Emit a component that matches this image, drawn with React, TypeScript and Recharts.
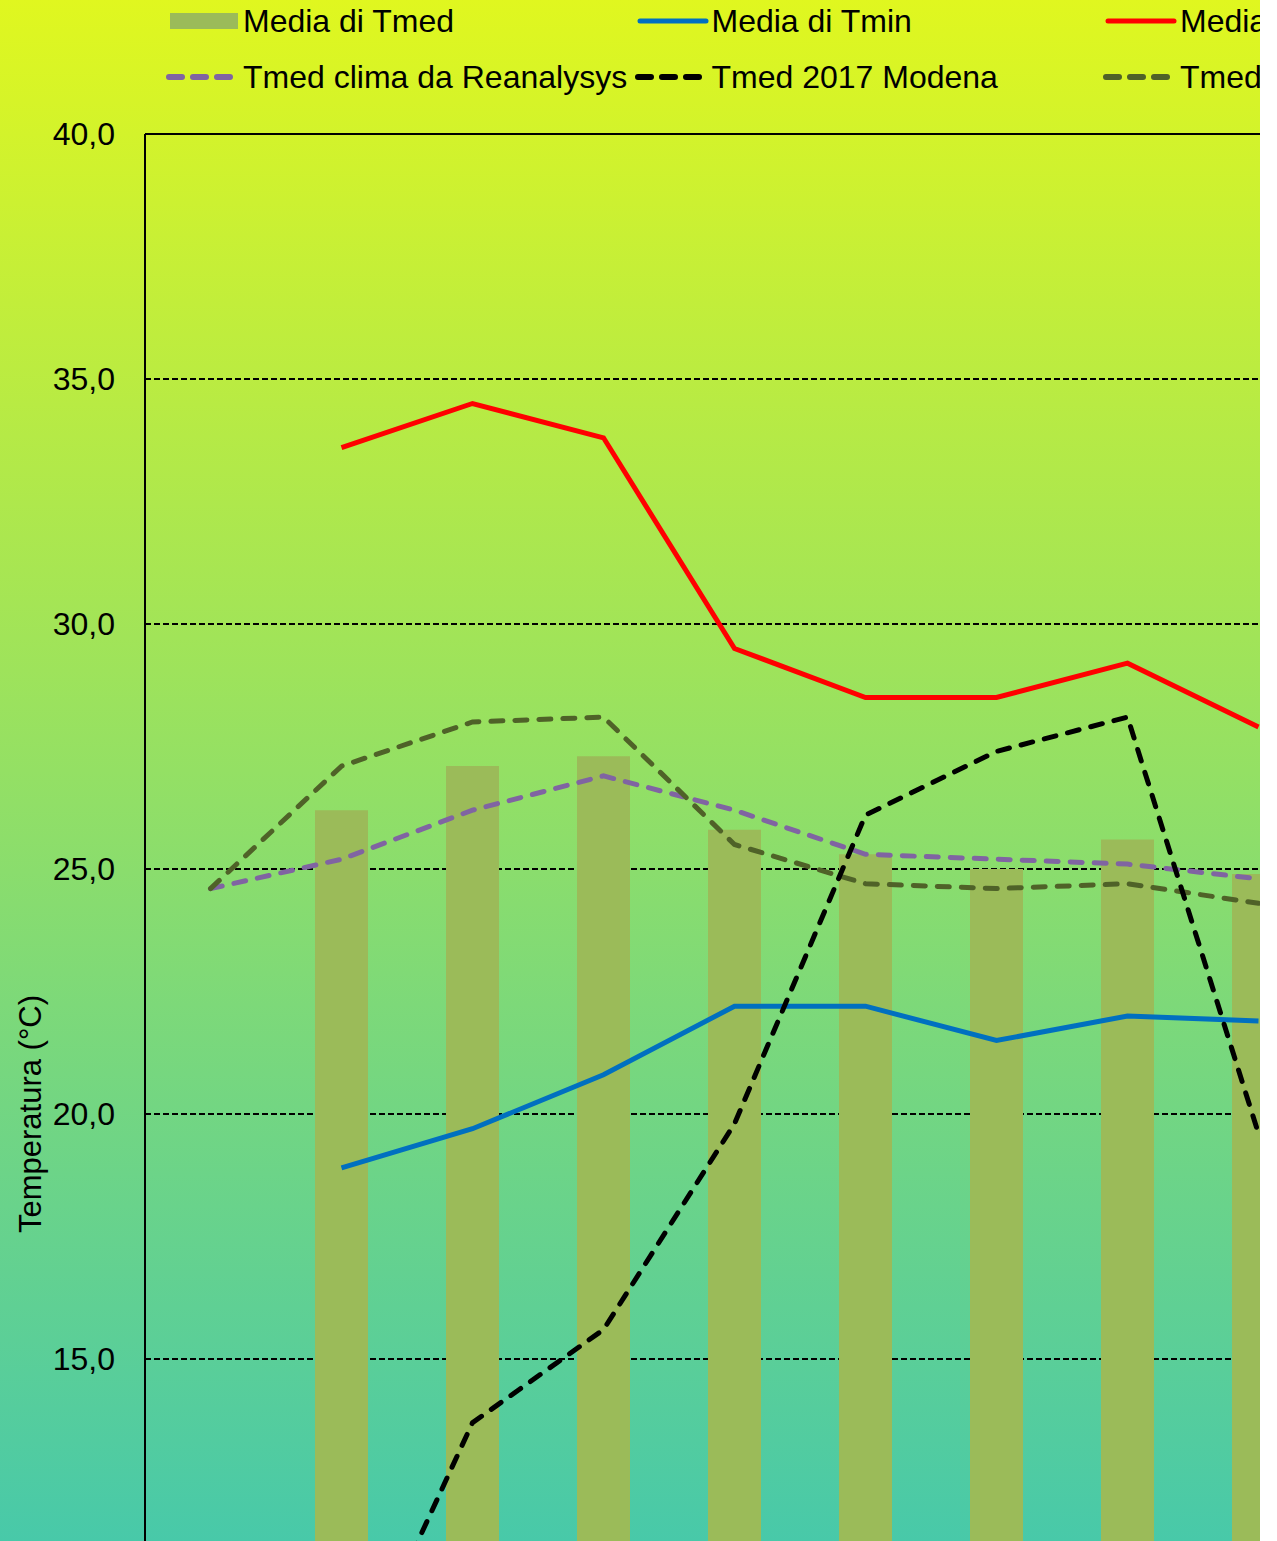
import {
  Bar,
  CartesianGrid,
  ComposedChart,
  Line,
  ReferenceLine,
  XAxis,
  YAxis,
} from "recharts";

// Dekads of the summer, read left to right (axis labels are off-frame)
const categories = [
  "III mag",
  "I giu",
  "II giu",
  "III giu",
  "I lug",
  "II lug",
  "III lug",
  "I ago",
  "II ago",
];

const mediaTmed = [null, 26.2, 27.1, 27.3, 25.8, 25.3, 25.0, 25.6, 24.9];
const mediaTmin = [null, 18.9, 19.7, 20.8, 22.2, 22.2, 21.5, 22.0, 21.9];
const mediaTmax = [null, 33.6, 34.5, 33.8, 29.5, 28.5, 28.5, 29.2, 27.9];
const tmedClima = [24.6, 25.2, 26.2, 26.9, 26.2, 25.3, 25.2, 25.1, 24.8];
const tmed2017 = [null, 7.9, 13.7, 15.6, 19.8, 26.1, 27.4, 28.1, 19.6];
const tmed2003 = [24.6, 27.1, 28.0, 28.1, 25.5, 24.7, 24.6, 24.7, 24.3];

// only the ticks that fall inside the visible frame
const yTicks = [15, 20, 25, 30, 35, 40];

const data = categories.map((c, i) => ({
  cat: c,
  mediaTmed: mediaTmed[i],
  mediaTmin: mediaTmin[i],
  mediaTmax: mediaTmax[i],
  tmedClima: tmedClima[i],
  tmed2017: tmed2017[i],
  tmed2003: tmed2003[i],
}));

const FONT = '"Liberation Sans", Arial, sans-serif';
const DASH = "12 12";

type LegendItem = {
  label: string;
  color: string;
  kind: "bar" | "line" | "dash";
};

// three columns, two rows (Excel-style legend)
const legendItems: LegendItem[] = [
  { label: "Media di Tmed", color: "#9BBB59", kind: "bar" },
  { label: "Media di Tmin", color: "#0070C0", kind: "line" },
  { label: "Media di Tmax", color: "#FF0000", kind: "line" },
  { label: "Tmed clima da Reanalysys", color: "#8064A2", kind: "dash" },
  { label: "Tmed 2017 Modena", color: "#000000", kind: "dash" },
  { label: "Tmed 2003 Modena", color: "#4F6228", kind: "dash" },
];

function LegendBlock() {
  return (
    <>
      {legendItems.map((it, i) => {
        const col = i % 3;
        const row = Math.floor(i / 3);
        const textX = 243 + col * 468.5;
        const cy = 21 + row * 56;
        return (
          <div key={it.label}>
            <svg
              width={76}
              height={20}
              style={{ position: "absolute", left: textX - 78, top: cy - 10 }}
            >
              {it.kind === "bar" && (
                <rect x={5} y={2} width={68} height={16} fill={it.color} />
              )}
              {it.kind === "line" && (
                <line
                  x1={6}
                  y1={10}
                  x2={72}
                  y2={10}
                  stroke={it.color}
                  strokeWidth={5}
                  strokeLinecap="round"
                />
              )}
              {it.kind === "dash" && (
                <line
                  x1={4}
                  y1={10}
                  x2={72}
                  y2={10}
                  stroke={it.color}
                  strokeWidth={6}
                  strokeLinecap="round"
                  strokeDasharray="13 11"
                />
              )}
            </svg>
            <div
              style={{
                position: "absolute",
                left: textX,
                top: cy - 19,
                fontFamily: FONT,
                fontSize: 32,
                lineHeight: "38px",
                color: "#000",
                whiteSpace: "nowrap",
              }}
            >
              {it.label}
            </div>
          </div>
        );
      })}
    </>
  );
}

function YTitle(props: any) {
  const vb = props.viewBox || { x: 0, y: 0, width: 0, height: 0 };
  const cx = 30;
  const cy = vb.y + vb.height / 2;
  return (
    <text
      x={cx}
      y={cy}
      transform={`rotate(-90, ${cx}, ${cy})`}
      textAnchor="middle"
      dominantBaseline="central"
      fontFamily={FONT}
      fontSize={31}
      fill="#000"
    >
      Temperatura (°C)
    </text>
  );
}

export default function App() {
  return (
    <div
      style={{
        position: "absolute",
        left: 0,
        top: 0,
        width: 1260,
        height: 1541,
        overflow: "hidden",
        background: "linear-gradient(to bottom, #e0f71f 0%, #48c9a9 100%)",
      }}
    >
      <ComposedChart
        width={1334}
        height={2114}
        data={data}
        margin={{ top: 134, right: 10, bottom: 20, left: 0 }}
        barCategoryGap="30%"
      >
        <CartesianGrid
          vertical={false}
          stroke="#000"
          strokeWidth={2}
          strokeDasharray="6 3"
        />
        <XAxis dataKey="cat" hide />
        <YAxis
          domain={[0, 40]}
          ticks={yTicks}
          width={145}
          tickSize={0}
          tickMargin={30}
          tickLine={false}
          axisLine={{ stroke: "#000", strokeWidth: 2 }}
          tick={{ fontFamily: FONT, fontSize: 32, fill: "#000" }}
          tickFormatter={(v: number) => v.toFixed(1).replace(".", ",")}
          label={<YTitle />}
        />
        <ReferenceLine y={40} stroke="#000" strokeWidth={2} />
        <Bar
          dataKey="mediaTmed"
          fill="#9BBB59"
          barSize={53}
          isAnimationActive={false}
        />
        <Line
          dataKey="tmedClima"
          type="linear"
          stroke="#8064A2"
          strokeWidth={5}
          strokeDasharray={DASH}
          strokeLinecap="round"
          dot={false}
          activeDot={false}
          isAnimationActive={false}
        />
        <Line
          dataKey="tmed2003"
          type="linear"
          stroke="#4F6228"
          strokeWidth={5}
          strokeDasharray={DASH}
          strokeLinecap="round"
          dot={false}
          activeDot={false}
          isAnimationActive={false}
        />
        <Line
          dataKey="mediaTmin"
          type="linear"
          stroke="#0070C0"
          strokeWidth={5}
          dot={false}
          activeDot={false}
          isAnimationActive={false}
        />
        <Line
          dataKey="mediaTmax"
          type="linear"
          stroke="#FF0000"
          strokeWidth={5}
          dot={false}
          activeDot={false}
          isAnimationActive={false}
        />
        <Line
          dataKey="tmed2017"
          type="linear"
          stroke="#000000"
          strokeWidth={5}
          strokeDasharray={DASH}
          strokeLinecap="round"
          dot={false}
          activeDot={false}
          isAnimationActive={false}
        />
      </ComposedChart>
      <LegendBlock />
    </div>
  );
}
